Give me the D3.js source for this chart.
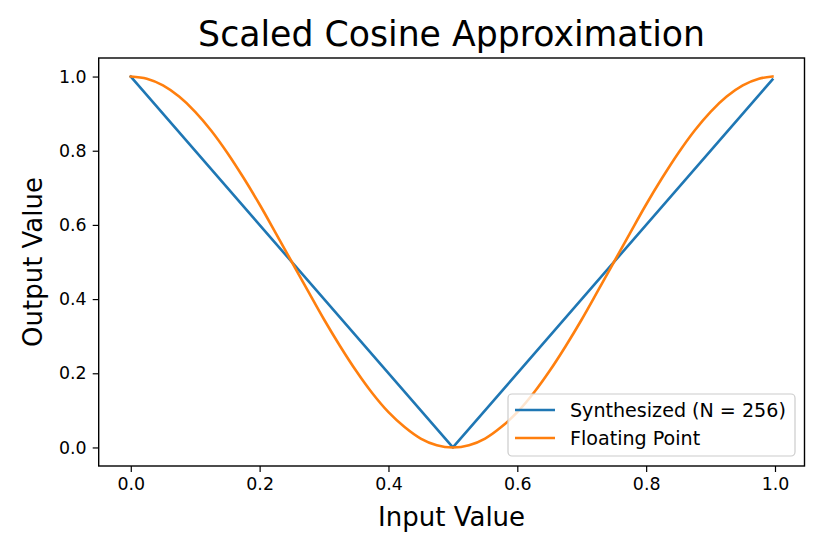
<!DOCTYPE html>
<html><head><meta charset="utf-8">
<script src="https://cdn.jsdelivr.net/npm/d3@7"></script>
<style>body{margin:0;background:#fff}svg{display:block;font-family:"DejaVu Sans",sans-serif}</style>
</head><body><svg id="c" width="830" height="554"></svg>
<script>
const synthX = [0, 0.5, 0.996];
const synthY = [1.0, 0.0, 0.992];
const floatX = [0,0.025,0.05,0.075,0.1,0.125,0.15,0.175,0.2,0.225,0.25,0.275,0.3,0.325,0.35,0.375,0.4,0.425,0.45,0.475,0.5,0.525,0.55,0.575,0.6,0.625,0.65,0.675,0.7,0.725,0.75,0.775,0.8,0.825,0.85,0.875,0.9,0.925,0.95,0.975,0.996];
const floatY = [1.000,0.994,0.976,0.946,0.905,0.854,0.794,0.727,0.655,0.578,0.500,0.422,0.345,0.273,0.206,0.146,0.095,0.055,0.024,0.006,0.000,0.006,0.024,0.055,0.095,0.146,0.206,0.273,0.345,0.422,0.500,0.578,0.655,0.727,0.794,0.854,0.905,0.946,0.976,0.994,1.000];
const xTicks = [0.0,0.2,0.4,0.6,0.8,1.0];
const yTicks = [0.0,0.2,0.4,0.6,0.8,1.0];
const seriesNames = ["Synthesized (N = 256)","Floating Point"];
const colors = ["#1f77b4","#ff7f0e"];

const L=98.7,R=804.5,T=58,B=466;
const svg=d3.select("#c");
const x=d3.scaleLinear().domain([-0.0498,1.0458]).range([L,R]);
const y=d3.scaleLinear().domain([-0.05,1.05]).range([B,T]);

const xa=svg.append("g").attr("transform",`translate(0,${B})`)
  .call(d3.axisBottom(x).tickValues(xTicks).tickFormat(d3.format(".1f")).tickSize(6).tickPadding(6));
const ya=svg.append("g").attr("transform",`translate(${L},0)`)
  .call(d3.axisLeft(y).tickValues(yTicks).tickFormat(d3.format(".1f")).tickSize(6).tickPadding(6));
[xa,ya].forEach(a=>{a.select(".domain").remove();a.selectAll("line").attr("stroke","#000").attr("stroke-width",1.2);
  a.selectAll("text").attr("font-size","17.4px").attr("font-family","DejaVu Sans").attr("fill","#000");});

const line=d3.line().x(d=>x(d[0])).y(d=>y(d[1]));
const s1=synthX.map((v,i)=>[v,synthY[i]]);
const s2=floatX.map((v,i)=>[v,floatY[i]]);
svg.append("path").datum(s1).attr("d",line).attr("fill","none").attr("stroke",colors[0]).attr("stroke-width",2.6).attr("stroke-linejoin","round").attr("stroke-linecap","square");
svg.append("path").datum(s2).attr("d",line.curve(d3.curveMonotoneX)).attr("fill","none").attr("stroke",colors[1]).attr("stroke-width",2.6).attr("stroke-linejoin","round").attr("stroke-linecap","square");

svg.append("rect").attr("x",L).attr("y",T).attr("width",R-L).attr("height",B-T).attr("fill","none").attr("stroke","#000").attr("stroke-width",1.4);

svg.append("text").attr("x",(L+R)/2).attr("y",46).attr("text-anchor","middle").attr("font-size","34.7px").text("Scaled Cosine Approximation");
svg.append("text").attr("x",(L+R)/2).attr("y",526).attr("text-anchor","middle").attr("font-size","26px").text("Input Value");
svg.append("text").attr("transform",`translate(42,${(T+B)/2}) rotate(-90)`).attr("text-anchor","middle").attr("font-size","26px").text("Output Value");

const lg=svg.append("g");
lg.append("rect").attr("x",508).attr("y",394).attr("width",287).attr("height",62).attr("rx",4).attr("fill","#fff").attr("fill-opacity",0.8).attr("stroke","#ccc").attr("stroke-width",1.2);
seriesNames.forEach((n,i)=>{
  const yy=410+i*28;
  lg.append("line").attr("x1",515).attr("x2",555).attr("y1",yy).attr("y2",yy).attr("stroke",colors[i]).attr("stroke-width",2.6);
  lg.append("text").attr("x",570).attr("y",yy+6.5).attr("font-size","19.1px").text(n);
});
</script></body></html>
